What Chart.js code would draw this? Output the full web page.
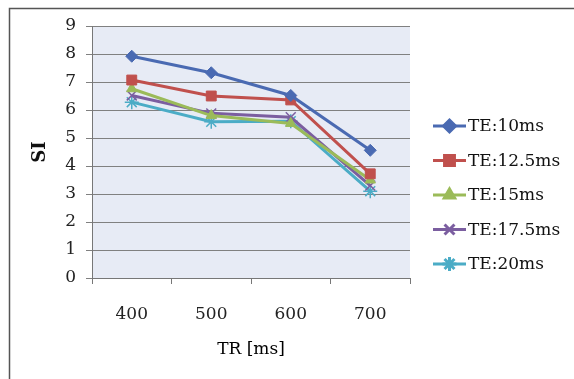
<!DOCTYPE html>
<html>
<head>
<meta charset="utf-8">
<script src="https://cdn.jsdelivr.net/npm/chart.js@4/dist/chart.umd.min.js"></script>
<style>
  html, body { margin: 0; padding: 0; background: #fff; overflow: hidden; }
  #wrap { width: 574px; height: 379px; position: relative; }
  canvas { display: block; }
</style>
</head>
<body>
<div id="wrap"><canvas id="c" width="574" height="379"></canvas></div>
<script>
// SI vs TR for several echo times
const trLabels = ['400', '500', '600', '700'];
const te10 = [7.92, 7.33, 6.52, 4.56];
const te125 = [7.07, 6.50, 6.36, 3.72];
const te15 = [6.76, 5.80, 5.52, 3.50];
const te175 = [6.52, 5.88, 5.74, 3.30];
const te20 = [6.28, 5.58, 5.60, 3.10];
const yTicks = [0, 1, 2, 3, 4, 5, 6, 7, 8, 9];

const FONT = 'DejaVu Serif';

const series = [
  { label: 'TE:10ms',   data: te10,  color: '#4a6ab2', style: 'rectRot',  r: 6 },
  { label: 'TE:12.5ms', data: te125, color: '#c0504d', style: 'rect',     r: 7 },
  { label: 'TE:15ms',   data: te15,  color: '#9bbb59', style: 'triangle', r: 6 },
  { label: 'TE:17.5ms', data: te175, color: '#7b5ea0', style: 'crossRot', r: 7 },
  { label: 'TE:20ms',   data: te20,  color: '#4bacc6', style: 'star',     r: 7 },
];

const frame = {
  id: 'frame',
  beforeDraw(chart) {
    const { ctx, chartArea: a } = chart;
    ctx.save();
    ctx.fillStyle = '#fff';
    ctx.fillRect(0, 0, chart.width, chart.height);
    ctx.fillStyle = '#e7ebf5';
    ctx.fillRect(a.left, a.top, a.right - a.left, a.bottom - a.top);
    ctx.strokeStyle = '#555';
    ctx.lineWidth = 1.5;
    ctx.beginPath();
    ctx.moveTo(9.5, chart.height + 2);
    ctx.lineTo(9.5, 8.5);
    ctx.lineTo(chart.width + 2, 8.5);
    ctx.stroke();
    ctx.restore();
  }
};

// legend with line + marker, as in the spreadsheet original
const sideLegend = {
  id: 'sideLegend',
  afterDraw(chart) {
    const { ctx } = chart;
    const x0 = 433, x1 = 466, y0 = 126, step = 34.5;
    ctx.save();
    chart.data.datasets.forEach((ds, i) => {
      const y = y0 + i * step;
      ctx.strokeStyle = ds.borderColor;
      ctx.lineWidth = 3;
      ctx.beginPath();
      ctx.moveTo(x0, y);
      ctx.lineTo(x1, y);
      ctx.stroke();
      ctx.fillStyle = ds.pointBackgroundColor;
      ctx.strokeStyle = ds.pointBorderColor;
      Chart.helpers.drawPoint(ctx, {
        pointStyle: ds.pointStyle, radius: ds.pointRadius, rotation: 0,
        borderWidth: ds.pointBorderWidth
      }, (x0 + x1) / 2, y);
      ctx.fillStyle = '#111';
      ctx.font = '17px "' + FONT + '"';
      ctx.textBaseline = 'middle';
      ctx.textAlign = 'left';
      ctx.fillText(ds.label, x1 + 2, y + 1);
    });
    ctx.restore();
  }
};

new Chart(document.getElementById('c').getContext('2d'), {
  type: 'line',
  data: {
    labels: trLabels,
    datasets: series.map(s => ({
      label: s.label,
      data: s.data,
      borderColor: s.color,
      backgroundColor: s.color,
      pointBackgroundColor: s.color,
      pointBorderColor: s.color,
      pointBorderWidth: (s.style === 'crossRot' || s.style === 'star') ? 1.5 : 1,
      pointStyle: s.style,
      pointRadius: s.r,
      borderWidth: 3,
      tension: 0,
      fill: false,
    }))
  },
  plugins: [frame, sideLegend],
  options: {
    responsive: false,
    animation: false,
    layout: { padding: { top: 26, right: 164, bottom: 0, left: 0 } },
    plugins: { legend: { display: false }, tooltip: { enabled: false } },
    scales: {
      x: {
        offset: true,
        grid: { offset: true, drawOnChartArea: false, drawTicks: true, tickLength: 6, color: '#777' },
        border: { color: '#777', width: 1 },
        ticks: { color: '#222', padding: 20, font: { family: FONT, size: 17 } },
        title: { display: true, text: 'TR [ms]', color: '#000', padding: { top: 4, bottom: 19 },
                 font: { family: FONT, size: 17 } },
        afterFit: s => { s.height = 101; },
      },
      y: {
        min: 0, max: 9,
        afterBuildTicks: s => { s.ticks = yTicks.map(v => ({ value: v })); },
        grid: { color: '#808080', tickLength: 6 },
        border: { color: '#777', width: 1 },
        ticks: { color: '#222', padding: 10, font: { family: FONT, size: 17 } },
        title: { display: true, text: 'SI', color: '#111', padding: { top: 30, bottom: 0 },
                 font: { family: FONT, size: 18, weight: 'bold' } },
        afterFit: s => { s.width = 92; },
      }
    }
  }
});
</script>
</body>
</html>
